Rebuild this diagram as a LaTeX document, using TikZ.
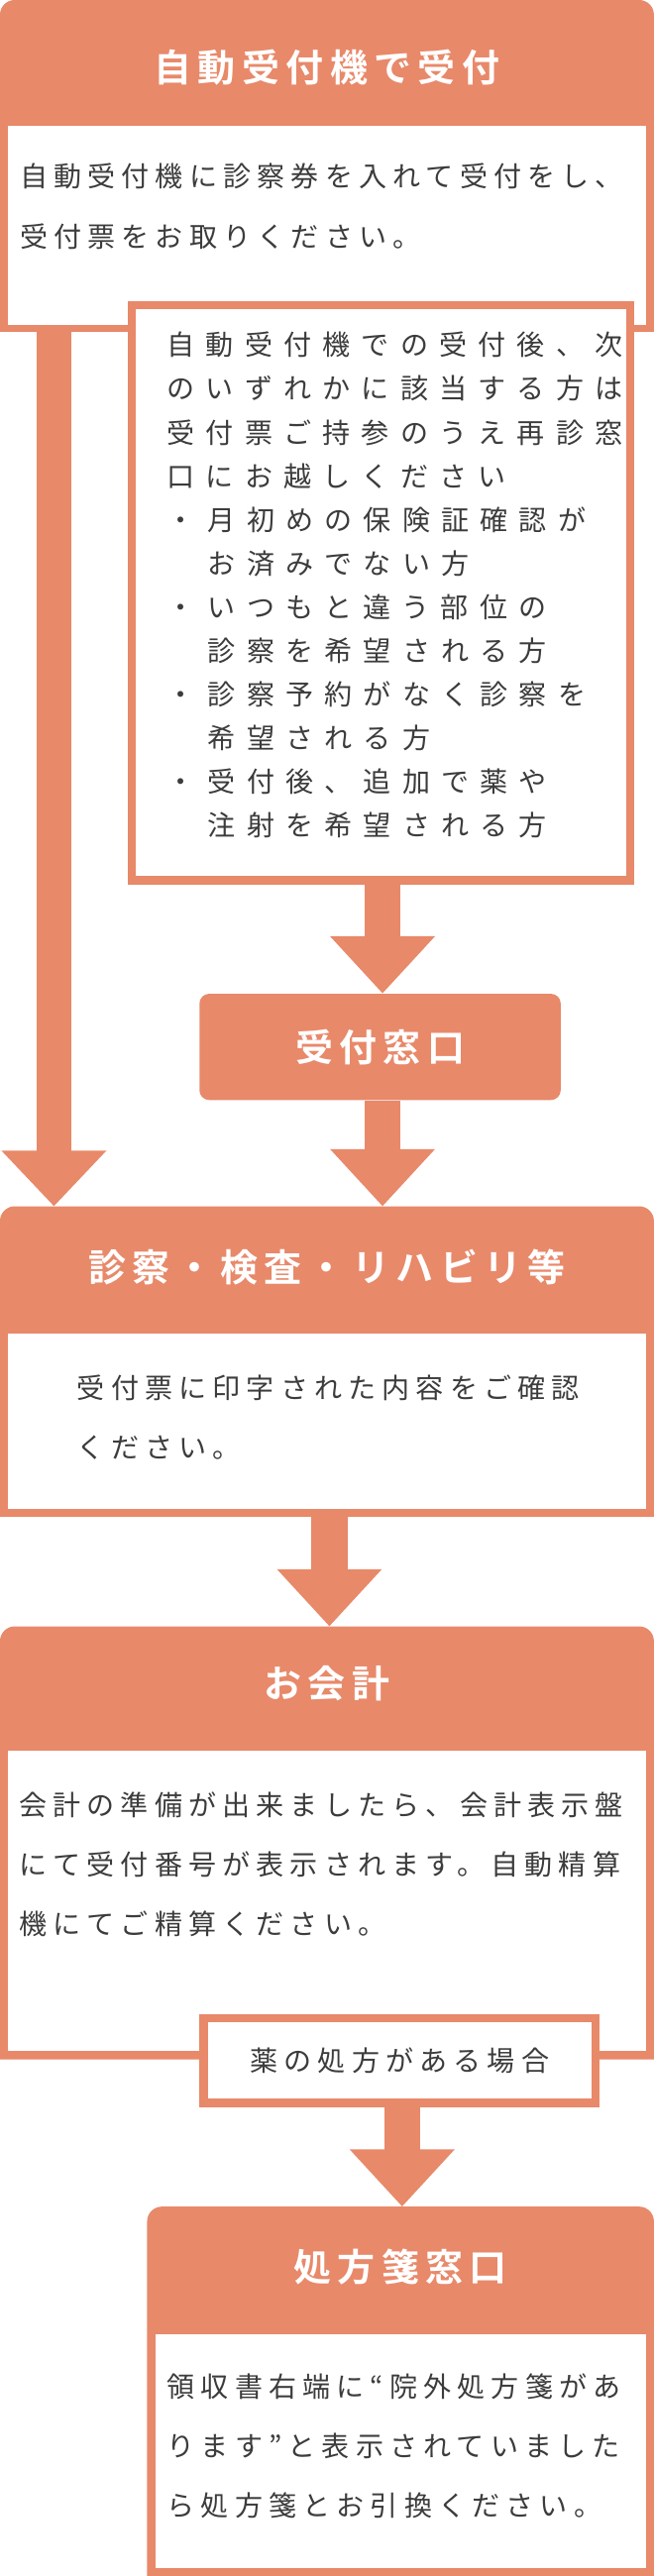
\documentclass[tikz,border=0pt]{standalone}
\usepackage{fontspec}
\setmainfont{Noto Sans CJK JP}[BoldFont={Noto Sans CJK JP Bold}]
\usetikzlibrary{arrows.meta}
\definecolor{orng}{HTML}{E8896A}
\definecolor{txt}{HTML}{3C3C3C}
\tikzset{
  hdr/.style={text=white,font=\fontsize{23}{28}\selectfont\bfseries\addfontfeature{LetterSpace=17},inner sep=0},
  body/.style={text=txt,anchor=north west,align=left,inner sep=0,font=\fontsize{17}{36.5}\selectfont\addfontfeature{LetterSpace=22}},
  fat/.style={draw=orng,line width=22pt,-{Triangle[width=62pt,length=35pt]}},
  wbox/.style={fill=white},
}
\newcommand{\bul}{\makebox[25pt][l]{・}}
\newcommand{\ind}{\hspace*{25pt}}
\begin{document}
\begin{tikzpicture}[x=1pt,y=-1pt]
\useasboundingbox (0,0) rectangle (400,1576);
% box 1
\fill[orng] (0,203) [rounded corners=9] -- (0,0) -- (400,0) [sharp corners] -- (400,203) -- cycle;
\fill[wbox] (5,77) rectangle (395,199);
\node[hdr] (h1) at (200,41) {自動受付機で受付};
\node[body] (t1) at (12,100) {自動受付機に診察券を入れて受付をし、\\受付票をお取りください。};
% box 2
\fill[orng] (78,184) rectangle (388,541);
\fill[wbox] (83,189) rectangle (383,536);
\node[body,font=\fontsize{17}{26.7}\selectfont\addfontfeature{LetterSpace=40}] (t2) at (102,203)
 {自動受付機での受付後、次\\のいずれかに該当する方は\\受付票ご持参のうえ再診窓\\口にお越しください\\
  \bul 月初めの保険証確認が\\\ind お済みでない方\\\bul いつもと違う部位の\\\ind 診察を希望される方\\
  \bul 診察予約がなく診察を\\\ind 希望される方\\\bul 受付後、追加で薬や\\\ind 注射を希望される方};
\coordinate (b2s) at (234,541);
% uketsuke madoguchi
\node[fill=orng,rounded corners=6,minimum width=221pt,minimum height=65pt,inner sep=0] (mado) at (232.5,640.5) {};
\node[hdr] at (mado) {受付窓口};
\draw[fat] (b2s) -- (mado.north -| b2s);
% box 3
\fill[orng] (0,928) [rounded corners=9] -- (0,738) -- (400,738) [sharp corners] -- (400,928) -- cycle;
\fill[wbox] (5,816) rectangle (395,923);
\coordinate (b3n) at (0,738);
\node[hdr] (h3) at (200,775) {診察・検査・リハビリ等};
\node[body] (t3) at (47,841) {受付票に印字された内容をご確認\\ください。};
\draw[fat] (mado.south -| b2s) -- (b3n -| b2s);
\coordinate (l1) at (33,203);
\draw[draw=orng,line width=21pt,-{Triangle[width=62pt,length=34pt]}] (l1) -- (b3n -| l1);
% box 4
\fill[orng] (0,1260) [rounded corners=9] -- (0,995) -- (400,995) [sharp corners] -- (400,1260) -- cycle;
\fill[wbox] (5,1071) rectangle (395,1255);
\coordinate (b4n) at (201.5,995);
\coordinate (b3s) at (201.5,928);
\draw[fat] (b3s) -- (b4n);
\node[hdr] (h4) at (200,1030) {お会計};
\node[body] (t4) at (11.5,1096) {会計の準備が出来ましたら、会計表示盤\\にて受付番号が表示されます。自動精算\\機にてご精算ください。};
\node[draw=orng,line width=5pt,fill=white,minimum width=240pt,minimum height=52pt,inner sep=0] (kusuri) at (244.5,1260.5) {};
\node[body,anchor=center] at (kusuri) {薬の処方がある場合};
% box 5
\fill[orng] (90,1576) [rounded corners=9] -- (90,1350) -- (400,1350) [sharp corners] -- (400,1576) -- cycle;
\fill[wbox] (95,1428) rectangle (395,1571);
\coordinate (b5n) at (246,1350);
\draw[fat] (kusuri.south -| b5n) -- (b5n);
\node[hdr] (h5) at (245,1387) {処方箋窓口};
\node[body] (t5) at (102,1452) {領収書右端に“院外処方箋があ\\ります”と表示されていました\\ら処方箋とお引換ください。};
\end{tikzpicture}
\end{document}
